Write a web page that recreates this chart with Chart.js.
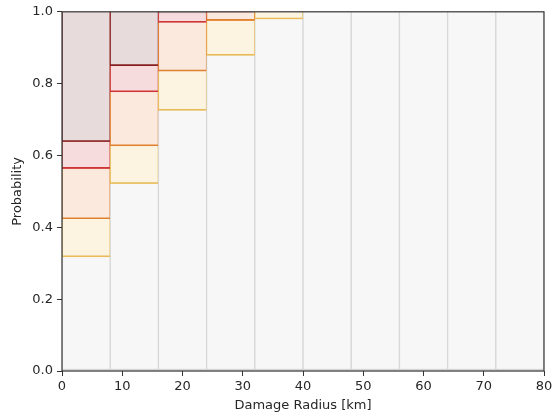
<!DOCTYPE html>
<html>
<head>
<meta charset="utf-8">
<script src="https://cdn.jsdelivr.net/npm/chart.js@4"></script>
<style>
  html, body { margin: 0; padding: 0; background: #fff; }
  #wrap { width: 559px; height: 416px; }
</style>
</head>
<body>
<div id="wrap"><canvas id="radiusChart" width="559" height="416"></canvas></div>
<script>
// bins of damage radius (km), each 8 km wide
var binStart = [0, 8, 16, 24, 32, 40, 48, 56, 64, 72];
var binWidth = 8;

// cumulative probability levels per bin
var yellowLevel = [0.317, 0.521, 0.725, 0.878, 0.979, 1, 1, 1, 1, 1];
var orangeLevel = [0.423, 0.626, 0.834, 0.975, 1, 1, 1, 1, 1, 1];
var redLevel = [0.563, 0.776, 0.970, 0.998, 1, 1, 1, 1, 1, 1];
var darkRedLevel = [0.638, 0.849, 0.996, 1, 1, 1, 1, 1, 1, 1];

var xTicks = [0, 10, 20, 30, 40, 50, 60, 70, 80];
var yTicks = [0, 0.2, 0.4, 0.6, 0.8, 1.0];

// build floating bars [lo, hi] for each band
function band(lo, hi) {
  var out = [];
  for (var i = 0; i < binStart.length; i++) {
    var a = lo ? lo[i] : 0;
    var b = hi ? hi[i] : 1;
    out.push({ x: binStart[i] + binWidth / 2, y: b > a ? [a, b] : null });
  }
  return out;
}

function layer(label, data, fill, line) {
  return {
    label: label,
    data: data,
    backgroundColor: fill,
    borderColor: line,
    borderWidth: { top: 0, left: 1, right: 1, bottom: 2 },
    borderSkipped: false,
    grouped: false,
    barPercentage: 1,
    categoryPercentage: 1
  };
}

var frame = {
  id: "frame",
  afterDatasetsDraw: function(chart) {
    var a = chart.chartArea, ctx = chart.ctx;
    ctx.save();
    ctx.strokeStyle = "#333";
    ctx.lineWidth = 1.2;
    ctx.strokeRect(a.left, a.top, a.right - a.left, a.bottom - a.top);
    ctx.restore();
  }
};

Chart.defaults.font.family = "'DejaVu Sans', sans-serif";
Chart.defaults.font.size = 13;
Chart.defaults.color = "#262626";

var ctx = document.getElementById("radiusChart").getContext("2d");
var myChart = new Chart(ctx, {
  type: "bar",
  data: {
    datasets: [
      layer("base", band(null, yellowLevel), "#f7f7f7", "#d6d6d6"),
      layer("yellow", band(yellowLevel, orangeLevel), "#fcf3e1", "#e8bb58"),
      layer("orange", band(orangeLevel, redLevel), "#fbe9de", "#e0802c"),
      layer("red", band(redLevel, darkRedLevel), "#f6dcdc", "#cf3535"),
      layer("darkred", band(darkRedLevel, null), "#e8dbdb", "#8a1f1f")
    ]
  },
  options: {
    responsive: false,
    animation: false,
    layout: { padding: { left: 0, right: 15, top: 10, bottom: 0 } },
    plugins: { legend: { display: false }, tooltip: { enabled: false } },
    scales: {
      x: {
        type: "linear",
        min: 0,
        max: 80,
        offset: false,
        afterBuildTicks: function(scale) {
          scale.ticks = xTicks.map(function(v) { return { value: v }; });
        },
        afterFit: function(scale) { scale.height = 45; },
        ticks: { padding: 3, maxRotation: 0, callback: function(v) { return v; } },
        grid: { offset: false, drawOnChartArea: false, drawTicks: true, tickLength: 5, color: "#333" },
        border: { display: false },
        title: { display: true, text: "Damage Radius [km]", padding: { top: 0, bottom: 3 } }
      },
      y: {
        min: 0,
        max: 1,
        afterBuildTicks: function(scale) {
          scale.ticks = yTicks.map(function(v) { return { value: v }; });
        },
        afterFit: function(scale) { scale.width = 62; },
        ticks: { padding: 4, callback: function(v) { return v.toFixed(1); } },
        grid: { offset: false, drawOnChartArea: false, drawTicks: true, tickLength: 5, color: "#333" },
        border: { display: false },
        title: { display: true, text: "Probability", padding: { top: 10, bottom: 0 } }
      }
    }
  },
  plugins: [frame]
});
</script>
</body>
</html>
